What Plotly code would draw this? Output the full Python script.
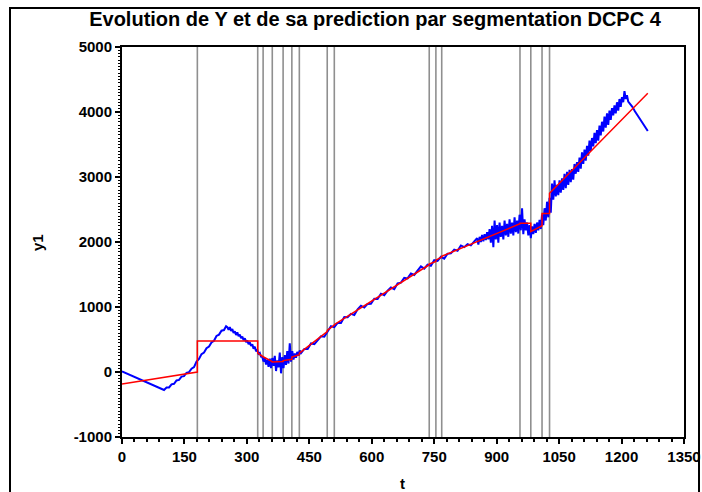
import plotly.graph_objects as go

# Observed series y1 over time t
t_obs = [
    0, 25, 50, 75, 101,
    107, 113, 119, 125, 131, 137, 143, 149, 155, 161, 167, 173, 179, 185, 191,
    197, 203, 209, 215, 221, 227, 233, 239, 245, 250,
    253, 256, 259, 262, 265, 268, 271, 274, 277, 280, 283, 286, 289, 292, 295,
    298, 301, 304, 307, 310, 313, 316, 319, 322, 325, 328, 331, 334,
    337, 340, 343, 346, 349, 352, 355, 358, 361, 364, 367, 370, 373, 376, 379,
    382, 385, 388, 391, 394, 397, 400, 403, 406, 409, 412, 415, 418, 421, 424,
    427, 430,
    438, 446, 454, 462, 470, 478, 486, 494, 502, 510, 518, 526, 534, 542, 550,
    558, 566, 574, 582, 590, 598, 606, 614, 622, 630, 638, 646, 654, 662, 670,
    678, 686, 694, 702, 710, 718, 726, 734, 742, 750, 758, 766, 774, 782, 790,
    798, 806, 814, 822, 830, 838, 846,
    853, 856, 859, 862, 865, 868, 871, 874, 877, 880, 883, 886, 889, 892, 895,
    898, 901, 904, 907, 910, 913, 916, 919, 922, 925, 928, 931, 934, 937, 940,
    943, 946, 949, 952, 955, 958, 961, 964, 967, 970, 973, 976, 979, 982, 985,
    988, 991, 994, 997, 1000, 1003, 1006, 1009, 1012, 1015, 1018, 1021, 1024,
    1027, 1030,
    1033, 1036, 1039, 1042, 1045, 1048, 1051, 1054, 1057, 1060, 1063, 1066,
    1069, 1072, 1075, 1078, 1081, 1084, 1087, 1090, 1093, 1096, 1099, 1102,
    1105, 1108, 1111, 1114, 1117, 1120, 1123, 1126, 1129, 1132, 1135, 1138,
    1141, 1144, 1147, 1150, 1153, 1156, 1159, 1162, 1165, 1168, 1171, 1174,
    1177, 1180, 1183, 1186, 1189, 1192, 1195, 1198, 1201, 1204, 1207,
    1210, 1213, 1216, 1220, 1226, 1232, 1238, 1244, 1250, 1256, 1263,
]
y_obs = [
    10, -60, -130, -200, -277,
    -240, -238, -190, -182, -130, -122, -70, -64, -12, -2, 50, 75, 160, 200, 275,
    300, 365, 392, 455, 480, 555, 575, 635, 645, 705,
    690, 650, 690, 630, 660, 600, 625, 570, 610, 550, 575, 520, 545, 490, 520,
    460, 485, 430, 455, 400, 425, 360, 390, 320, 340, 280, 295, 235,
    230, 160, 215, 115, 190, 80, 205, 60, 215, 95, 250, 15, 180, 70, 300,
    -20, 230, 60, 260, 110, 320, 130, 440, 160, 320, 190, 285, 220, 310, 250,
    330, 290,
    355, 355, 440, 430, 483, 550, 542, 635, 705, 690, 755, 755, 845, 843, 895,
    877, 964, 1020, 991, 1048, 1050, 1127, 1124, 1205, 1182, 1250, 1300, 1275, 1365, 1375,
    1450, 1440, 1515, 1493, 1565, 1625, 1590, 1650, 1635, 1720, 1708, 1772, 1745, 1820, 1825,
    1883, 1865, 1947, 1921, 1967, 1948, 2018,
    2060, 1960, 2080, 2000, 2110, 2010, 2120, 2030, 2150, 2040, 2200, 1990, 2250, 1920, 2330,
    2040, 2260, 1990, 2300, 2080, 2250, 2040, 2330, 2100, 2280, 2080, 2350, 2130, 2300, 2100,
    2380, 2150, 2330, 2130, 2420, 2180, 2520, 2120, 2350, 2180, 2300, 2100, 2260, 2060, 2240,
    2120, 2280, 2140, 2300, 2180, 2340, 2200, 2420, 2260, 2520, 2330, 2620, 2380,
    2680, 2450,
    2900, 2650, 2950, 2700, 2880, 2720, 2950, 2760, 2980, 2800, 3050, 2830,
    3080, 2880, 3110, 2920, 3120, 2960, 3200, 3050, 3230, 3080, 3300, 3130,
    3380, 3200, 3420, 3250, 3480, 3330, 3560, 3400, 3600, 3470, 3680, 3520,
    3720, 3560, 3790, 3640, 3850, 3700, 3930, 3760, 3980, 3800, 4020, 3880,
    4060, 3950, 4100, 3980, 4150, 4020, 4200, 4080, 4230, 4150, 4320,
    4200, 4260, 4160, 4130, 4080, 4010, 3950, 3890, 3840, 3780, 3708,
]

# Segment boundaries found by the DCPC segmentation
breaks = [181, 326, 339, 361, 387, 408, 426, 493, 510, 738, 754, 768, 956, 982, 1009, 1027]
t_last = 1263

# Fitted prediction on each segment: value at the segment start and end
seg_start_val = [-185, 477, 290, 235, 155, 175, 230, 290, 640, 730, 1660, 1720, 1780, 2290, 2160, 2440, 2749]
seg_end_val = [0, 477, 235, 160, 160, 195, 265, 620, 720, 1650, 1700, 1770, 2280, 2290, 2250, 2440, 4287]

x_ticks = list(range(0, 1351, 150))
y_ticks = list(range(-1000, 5001, 1000))

bounds = [0] + breaks + [t_last]
pred_t, pred_y = [], []
for i in range(len(bounds) - 1):
    pred_t += [bounds[i], bounds[i + 1]]
    pred_y += [seg_start_val[i], seg_end_val[i]]

fig = go.Figure()
fig.add_trace(go.Scatter(x=t_obs, y=y_obs, mode="lines",
                         line=dict(color="#0000FF", width=2), showlegend=False))
fig.add_trace(go.Scatter(x=pred_t, y=pred_y, mode="lines",
                         line=dict(color="#FF0000", width=1.5), showlegend=False))

shapes = []
for b in breaks:
    shapes.append(dict(type="line", xref="x", yref="paper", x0=b, x1=b, y0=0, y1=1,
                       line=dict(color="#8f8f8f", width=1.6), layer="below"))

# outer frame around the whole graphic
L, R, T, B = 122, 684, 47, 437
W, H = 702, 492
def px(x):
    return (x - L) / (R - L)
def py(y):
    return (B - y) / (B - T)
shapes.append(dict(type="rect", xref="paper", yref="paper",
                   x0=px(10), x1=px(699), y0=py(520), y1=py(8),
                   line=dict(color="black", width=2), fillcolor="rgba(0,0,0,0)"))

tick_font = dict(family="Liberation Sans, Arial, sans-serif", size=15, color="black", weight="bold")

fig.update_layout(
    width=W, height=H,
    margin=dict(l=L, r=W - R, t=T, b=H - B, autoexpand=False),
    paper_bgcolor="white", plot_bgcolor="white",
    title=dict(text="Evolution de Y et de sa prediction par segmentation DCPC 4",
               font=dict(family="Liberation Sans, Arial, sans-serif", size=20, color="black", weight="bold"),
               x=375 / W, xref="container", xanchor="center",
               y=1 - 19 / H, yref="container", yanchor="middle"),
    shapes=shapes,
    annotations=[
        dict(text="t", xref="paper", yref="paper", x=px(402), y=py(483),
             showarrow=False, font=tick_font, xanchor="center", yanchor="middle"),
        dict(text="y1", xref="paper", yref="paper", x=px(37), y=py(243),
             showarrow=False, font=tick_font, textangle=-90, xanchor="center", yanchor="middle"),
    ],
)
fig.update_xaxes(range=[0, 1350], tickvals=x_ticks, ticktext=[str(v) for v in x_ticks],
                 automargin=False,
                 showline=True, linecolor="black", linewidth=2, mirror=True,
                 ticks="outside", ticklen=5, tickwidth=1.5, tickcolor="black",
                 minor=dict(dtick=30, tick0=0, ticks="outside", ticklen=3, tickcolor="black", tickwidth=1.5),
                 showgrid=False, zeroline=False, tickfont=tick_font)
fig.update_yaxes(range=[-1000, 5000], tickvals=y_ticks, ticktext=[str(v) for v in y_ticks],
                 automargin=False,
                 showline=True, linecolor="black", linewidth=2, mirror=True,
                 ticks="outside", ticklen=5, tickwidth=1.5, tickcolor="black",
                 minor=dict(dtick=50, tick0=0, ticks="outside", ticklen=2.5, tickcolor="black", tickwidth=1.2),
                 showgrid=False, zeroline=False, tickfont=tick_font)

fig.write_html("out.html")
